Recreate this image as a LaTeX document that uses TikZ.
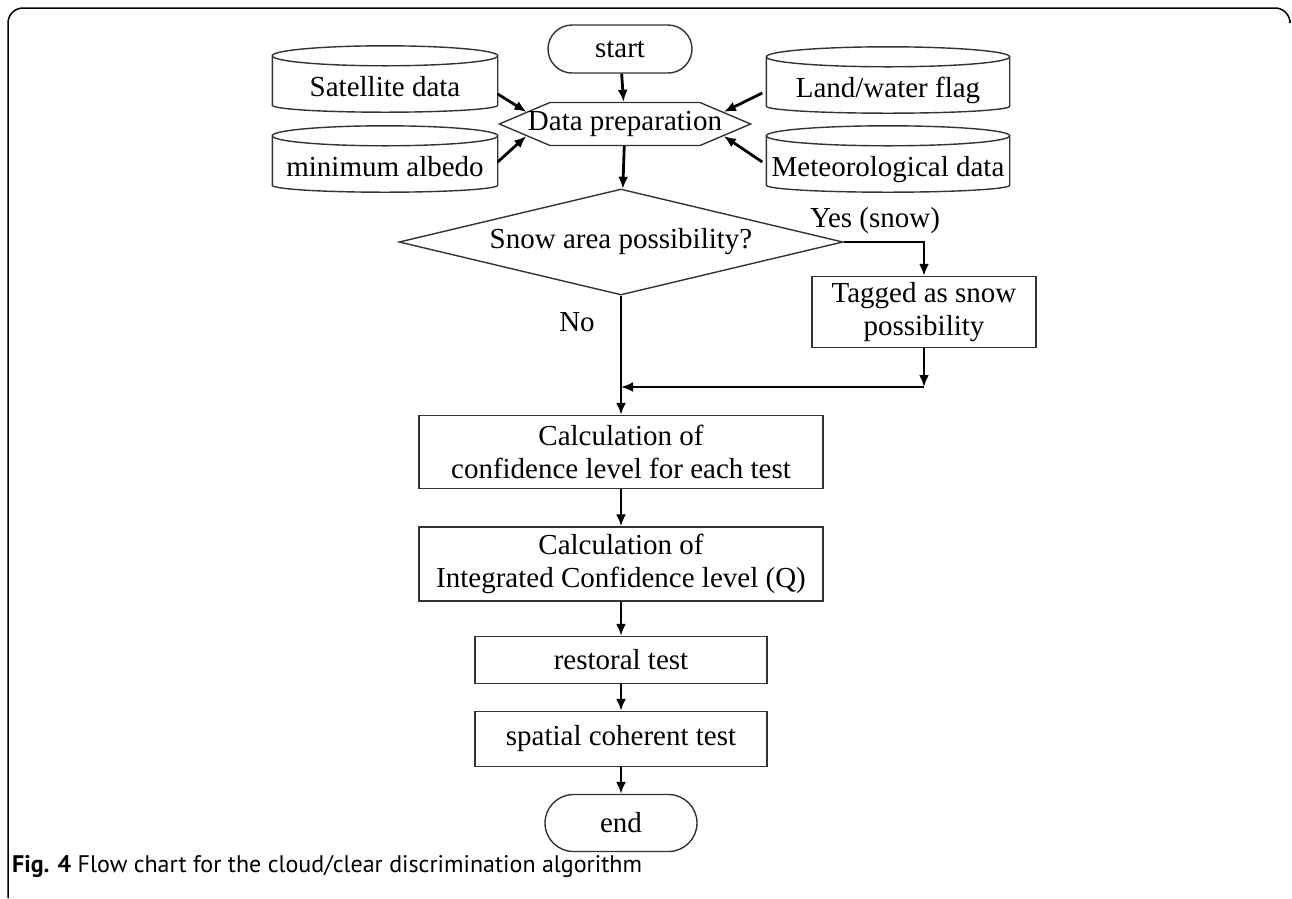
\documentclass[tikz,border=0pt]{standalone}
\usepackage{fontspec}
\setmainfont{Liberation Serif}
\newfontfamily\capfont{PT Sans}
\usetikzlibrary{shapes.geometric,shapes.misc,shapes.symbols,arrows.meta,calc}
\newcommand\dbtext[1]{\raisebox{-17pt}[0pt][0pt]{#1}}

\begin{document}
\begin{tikzpicture}[>={Latex[length=12pt,width=10pt]},x=1pt,y=-1pt,
		every node/.style={font=\fontsize{29}{33}\selectfont,inner sep=0pt},
		box/.style={rectangle,draw=black!80,line width=1.4pt,align=center},
		term/.style={rounded rectangle,draw=black!80,line width=1.4pt,minimum width=144pt,minimum height=48pt},
		db/.style={rectangle,minimum width=225pt,minimum height=66pt},
		dbline/.style={draw=black!80,line width=1.4pt},
		prep/.style={signal,signal to=east and west,signal pointer angle=46,draw=black!80,line width=1.4pt,minimum height=43pt},
		dec/.style={diamond,aspect=4.2,draw=black!80,line width=1.4pt,minimum width=444pt,minimum height=106pt},
		flow/.style={->,line width=2.8pt}]
		\useasboundingbox (0,0) rectangle (1292,898);
		\draw[line width=1.5pt,rounded corners=15pt] (8,898) -- (8,8) -- (1290,8) -- (1290,20);
		\node[term] (start) at (620,49) {start};
		\node[db] (sat) at (385,79) {\dbtext{Satellite data}};
		\node[db] (alb) at (385,159) {\dbtext{minimum albedo}};
		\node[db,minimum width=243pt] (land) at (888,80) {\dbtext{Land/water flag}};
		\node[db,minimum width=243pt] (met) at (888,159) {\dbtext{Meteorological data}};
		\foreach \db in {sat,alb,land,met}
			\draw[dbline] let \p1=($(\db.east)-(\db.west)$) in
				($(\db.north west)+(0,10)$) -- ($(\db.south west)+(0,-7)$)
				arc[start angle=180,end angle=360,x radius=0.5*\x1,y radius=7pt]
				-- ($(\db.north east)+(0,10)$)
				($(\db.north)+(0,10)$) ellipse[x radius=0.5*\x1,y radius=10pt];
		\node[prep] (prep) at (625,124) {\makebox[150pt]{Data preparation}};
		\node[dec] (snow) at (621,242) {Snow area possibility?};
		\node (yes) at (875,221) {Yes (snow)};
		\node (no) at (577,322) {No};
		\node[box,minimum width=224pt,minimum height=71pt] (tag) at (924,312) {Tagged as snow\\possibility};
		\node[box,minimum width=404pt,minimum height=73pt] (conf) at (621,452) {Calculation of\\confidence level for each test};
		\node[box,minimum width=404pt,minimum height=74pt] (icl) at (621,564) {Calculation of\\Integrated Confidence level (Q)};
		\node[box,minimum width=292pt,minimum height=47pt] (rest) at (621,660) {restoral test};
		\node[box,minimum width=292pt,minimum height=55pt] (spat) at (621,739) {spatial coherent test};
		\node[term,minimum width=152pt,minimum height=57pt] (end) at (621,823) {end};
		\coordinate (tj) at (924,387);
		\coordinate (jn) at (621,387);
		\draw[flow] (start) -- (prep);
		\draw[flow] ($(sat.east)+(0,15)$) -- (prep.173);
		\draw[flow] ($(alb.east)+(0,3)$) -- (prep.187);
		\draw[flow] ($(land.west)+(-4,13)$) -- (prep.7);
		\draw[flow] ($(met.west)+(-4,3)$) -- (prep.-7);
		\draw[flow] (prep) -- (snow);
		\draw[flow] (snow.east) -| (tag.north);
		\draw[flow] (tag.south) -- (tj);
		\draw[flow] (tj) -- (jn);
		\draw[flow] (snow.south) -- (conf.north);
		\draw[flow] (conf) -- (icl);
		\draw[flow] (icl) -- (rest);
		\draw[flow] (rest) -- (spat);
		\draw[flow] (spat) -- (end);
		\node[anchor=base west,font=\capfont\fontsize{24}{28}\selectfont] (cap) at (12,872) {\textbf{Fig. 4} Flow chart for the cloud/clear discrimination algorithm};
\end{tikzpicture}
\end{document}
